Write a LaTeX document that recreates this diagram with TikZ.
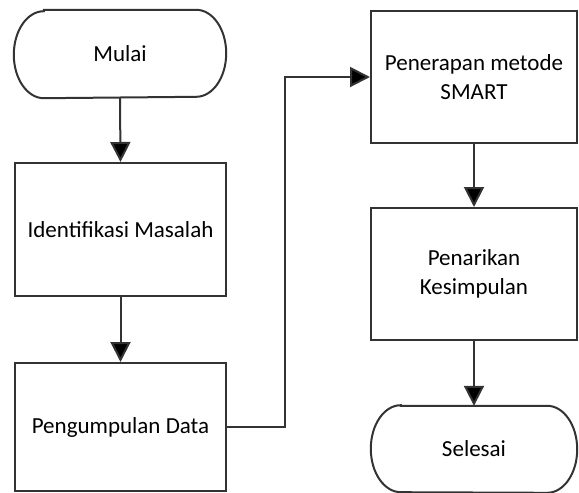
\documentclass[tikz,border=0pt]{standalone}
\usepackage{fontspec}
\setmainfont{Carlito}
\usetikzlibrary{arrows.meta,calc}
\begin{document}
\begin{tikzpicture}[x=1pt,y=1pt,
  every node/.style={font=\fontsize{23}{29}\selectfont, align=center, inner sep=0pt},
  procbox/.style={draw=black!80, line width=2pt, rectangle, minimum width=#1},
  termbox/.style={rectangle, minimum width=#1},
  conn/.style={draw=black!80, line width=2pt, -{Triangle[length=20pt,width=20pt,fill=black]}},
  plain/.style={draw=black!80, line width=2pt}]
\useasboundingbox (0,0) rectangle (579,-493);
% terminators (text nodes; outline drawn below)
\node[termbox=212, minimum height=88] (mulai) at (120,-54) {Mulai};
\node[termbox=206, minimum height=86] (selesai) at (474,-449) {Selesai};
\foreach \n/\rx in {mulai/30,selesai/30}{
  \draw[black!80, line width=2pt]
    ($(\n.north west)+(\rx,0)$) -- ($(\n.north east)+(-\rx,0)$)
    arc[start angle=90, end angle=-90, x radius=\rx, y radius=43.5]
    -- ($(\n.south west)+(\rx,0)$)
    arc[start angle=270, end angle=90, x radius=\rx, y radius=43.5] -- cycle;
}
% process boxes
\node[procbox=211, minimum height=133] (ident) at (120.5,-229.5) {Identifikasi Masalah};
\node[procbox=211, minimum height=128] (kumpul) at (120.5,-427) {Pengumpulan Data};
\node[procbox=206, minimum height=132] (terap) at (474,-77) {Penerapan metode\\SMART};
\node[procbox=206, minimum height=132] (tarik) at (474,-274) {Penarikan\\Kesimpulan};
\coordinate (bendA) at (285,-427);
\coordinate (bendB) at (285,-77);
% connectors
\draw[conn] (mulai.south) -- (ident.north);
\draw[conn] (ident.south) -- (kumpul.north);
\draw[conn] (kumpul.east) -- (bendA) -- (bendB) -- (terap.west);
\draw[conn] (terap.south) -- (tarik.north);
\draw[conn] (tarik.south) -- (selesai.north);
\end{tikzpicture}
\end{document}
